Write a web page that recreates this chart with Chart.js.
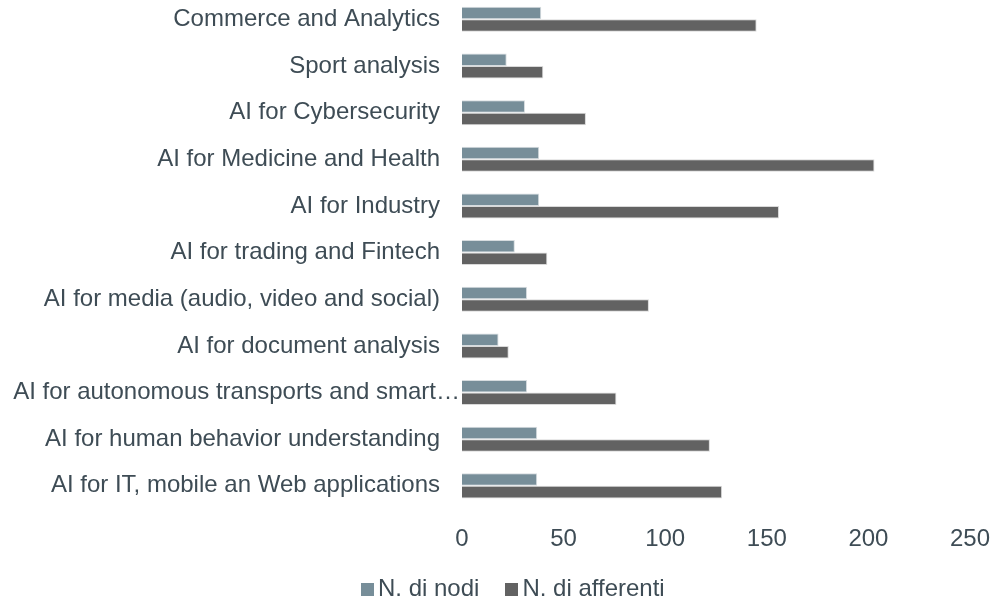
<!DOCTYPE html>
<html>
<head>
<meta charset="utf-8">
<script src="https://cdn.jsdelivr.net/npm/chart.js@4/dist/chart.umd.min.js"></script>
<style>
  html, body { margin: 0; padding: 0; background: #fff; overflow: hidden; }
  #wrap { position: relative; width: 992px; height: 598px; overflow: hidden; }
  #chart { position: absolute; left: 0; top: -4px; }
  #legend {
    position: absolute; left: 361px; top: 576px; line-height: 24px;
    font-family: "Liberation Sans", Arial, sans-serif;
    font-size: 24px; color: #3e4c55; white-space: nowrap;
  }
  #legend span.box { display: inline-block; width: 13px; height: 13px; margin-right: 4px; vertical-align: baseline; }
  #legend span.item { margin-right: 26px; }
</style>
</head>
<body>
<div id="wrap">
  <canvas id="chart" width="992" height="602"></canvas>
  <div id="legend"></div>
</div>
<script>
const categories = [
  'Commerce and Analytics',
  'Sport analysis',
  'AI for Cybersecurity',
  'AI for Medicine and Health',
  'AI for Industry',
  'AI for trading and Fintech',
  'AI for media (audio, video and social)',
  'AI for document analysis',
  'AI for autonomous transports and smart…',
  'AI for human behavior understanding',
  'AI for IT, mobile an Web applications'
];
const nodi = [39, 22, 31, 38, 38, 26, 32, 18, 32, 37, 37];
const afferenti = [145, 40, 61, 203, 156, 42, 92, 23, 76, 122, 128];
const xTicks = [0, 50, 100, 150, 200, 250];

const textColor = '#3e4c55';
const colNodi = '#778e99';
const colAfferenti = '#626262';
const font = { family: '"Liberation Sans", Arial, sans-serif', size: 24 };

new Chart(document.getElementById('chart'), {
  type: 'bar',
  data: {
    labels: categories,
    datasets: [
      {
        label: 'N. di nodi',
        data: nodi,
        backgroundColor: colNodi,
        borderColor: '#d6dcdf',
        borderWidth: 1,
        categoryPercentage: 0.536,
        barPercentage: 1
      },
      {
        label: 'N. di afferenti',
        data: afferenti,
        backgroundColor: colAfferenti,
        borderColor: '#d9d9d9',
        borderWidth: 1,
        categoryPercentage: 0.536,
        barPercentage: 1
      }
    ]
  },
  options: {
    indexAxis: 'y',
    responsive: false,
    animation: false,
    layout: { padding: { top: 0, right: 22, bottom: 28, left: 0 } },
    plugins: {
      legend: { display: false },
      tooltip: { enabled: false }
    },
    scales: {
      x: {
        min: xTicks[0],
        max: xTicks[xTicks.length - 1],
        grid: { display: false, drawTicks: false },
        border: { display: false },
        ticks: { stepSize: 50, color: textColor, font: font, padding: 16 },
        afterFit: (scale) => { scale.paddingLeft = 0; scale.paddingRight = 0; }
      },
      y: {
        grid: { display: false, drawTicks: false },
        border: { display: false },
        ticks: {
          color: textColor,
          font: font,
          padding: 2,
          autoSkip: false,
          // the long truncated label overflows toward the bars, the rest end 20px earlier
          callback: (v, i) => categories[i] + (categories[i].endsWith('…') ? '' : '   ')
        },
        afterFit: (scale) => {
          scale.width = 462;
          scale.paddingTop = 0;
          scale.paddingBottom = 0;
        }
      }
    }
  }
});

// legend with the square right next to the text
document.getElementById('legend').innerHTML = [
  ['N. di nodi', colNodi],
  ['N. di afferenti', colAfferenti]
].map(([t, c]) => '<span class="item"><span class="box" style="background:' + c + '"></span>' + t + '</span>').join('');
</script>
</body>
</html>
